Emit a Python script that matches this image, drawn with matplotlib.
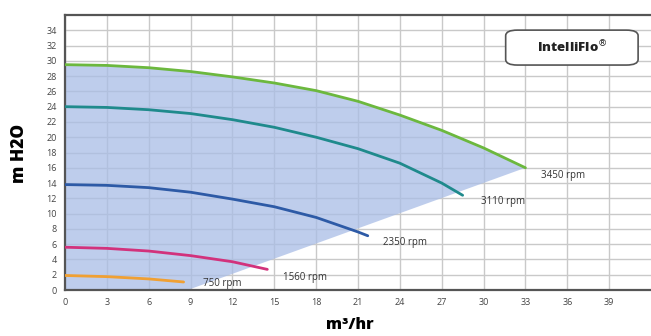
import matplotlib.pyplot as plt
from matplotlib.patches import FancyBboxPatch

# Pump curves (flow m3/hr, head m H2O)
x_3450 = [0, 3, 6, 9, 12, 15, 18, 21, 24, 27, 30, 33]
y_3450 = [29.5, 29.4, 29.1, 28.6, 27.9, 27.1, 26.1, 24.7, 22.9, 20.9, 18.6, 16.0]
x_3110 = [0, 3, 6, 9, 12, 15, 18, 21, 24, 27, 28.5]
y_3110 = [24.0, 23.9, 23.6, 23.1, 22.3, 21.3, 20.0, 18.5, 16.6, 14.0, 12.4]
x_2350 = [0, 3, 6, 9, 12, 15, 18, 21, 21.7]
y_2350 = [13.8, 13.7, 13.4, 12.8, 11.9, 10.9, 9.5, 7.6, 7.1]
x_1560 = [0, 3, 6, 9, 12, 14.5]
y_1560 = [5.6, 5.45, 5.1, 4.5, 3.7, 2.7]
x_750 = [0, 3, 6, 8.5]
y_750 = [1.9, 1.75, 1.45, 1.05]

# operating envelope corner points
env_x = [8.8, 0]
env_y = [0, 0]

labels = ['3450 rpm', '3110 rpm', '2350 rpm', '1560 rpm', '750 rpm']
label_pos = [(34.1, 15.0), (29.8, 11.6), (22.8, 6.2), (15.6, 1.7), (9.9, 0.9)]
colors = ['#6cb83e', '#1f8a8c', '#2d5aa6', '#d2327c', '#f0a033']

fig = plt.figure(figsize=(6.51, 3.36), dpi=100)
ax = fig.add_axes([65 / 651, 46 / 336, 586 / 651, 275 / 336])

ax.set_xlim(0, 42)
ax.set_ylim(0, 36)
ax.set_xticks(range(0, 42, 3))
ax.set_yticks(range(0, 36, 2))
ax.grid(True, color='#c9c9c9', lw=1.0)
ax.set_axisbelow(True)
ax.tick_params(length=0, labelsize=6.5, labelcolor='#444444', pad=6)
for lab in ax.get_xticklabels() + ax.get_yticklabels():
    lab.set_family('Open Sans')

# shaded envelope
ax.fill(x_3450 + env_x, y_3450 + env_y, color='#a9bde6', alpha=0.75, lw=0, zorder=1)

curves = [(x_3450, y_3450), (x_3110, y_3110), (x_2350, y_2350),
          (x_1560, y_1560), (x_750, y_750)]
for (xs, ys), c in zip(curves, colors):
    ax.plot(xs, ys, color=c, lw=2.0, solid_capstyle='round', zorder=3)
for txt, (tx, ty) in zip(labels, label_pos):
    ax.text(tx, ty, txt, fontsize=7, family='Open Sans', color='#333333',
            va='center', ha='left', zorder=4)

for s in ['left', 'top', 'bottom']:
    ax.spines[s].set_color('#555555')
    ax.spines[s].set_linewidth(1.6)
ax.spines['right'].set_visible(False)

box = FancyBboxPatch((0.752, 0.818), 0.226, 0.127, transform=ax.transAxes,
                     boxstyle='round,pad=0,rounding_size=0.02', fc='white',
                     ec='#555555', lw=1.2, zorder=5)
ax.add_patch(box)
ax.text(0.865, 0.882, 'IntelliFlo$^{\u00ae}$', transform=ax.transAxes, fontsize=9.5,
        fontweight='heavy', family='Open Sans', ha='center', va='center',
        color='#222222', zorder=6)

fig.text(19 / 651, 1 - 153 / 336, 'm H2O', rotation=90, fontsize=12.5,
         fontweight='heavy', family='Open Sans', ha='center', va='center')
fig.text(350 / 651, 3 / 336, 'm\u00b3/hr', fontsize=11.5, fontweight='heavy',
         family='Open Sans', ha='center', va='bottom')

fig.savefig('out.png', dpi=100)
